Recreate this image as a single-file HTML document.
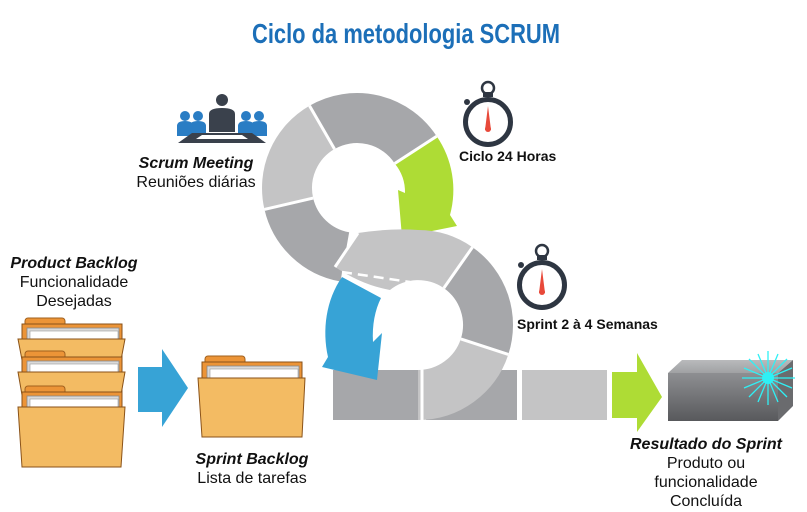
<!DOCTYPE html>
<html><head><meta charset="utf-8"><style>
html,body{margin:0;padding:0;background:#fff;}
svg{display:block;}
text{font-family:"Liberation Sans",Arial,sans-serif;fill:#111;}
.bi{font-weight:bold;font-style:italic;}
</style></head><body>
<svg width="807" height="512" viewBox="0 0 807 512" xmlns="http://www.w3.org/2000/svg">
<defs>
<linearGradient id="bf" x1="0" y1="0" x2="0" y2="1"><stop offset="0" stop-color="#8e8f92"/><stop offset="1" stop-color="#58595c"/></linearGradient>
<linearGradient id="bt" x1="0" y1="0" x2="0" y2="1"><stop offset="0" stop-color="#b9babc"/><stop offset="1" stop-color="#a0a1a3"/></linearGradient>
<g id="folder">
 <path d="M6,0 h34 a3,3 0 0 1 3,3 v5 h-40 v-5 a3,3 0 0 1 3,-3z" fill="#ec9437" stroke="#a0601e" stroke-width="1"/>
 <rect x="0" y="6" width="100" height="40" fill="#ec9437" stroke="#8a5218" stroke-width="1"/>
 <rect x="5" y="10" width="92" height="12" fill="#d9d9d9" stroke="#888" stroke-width="0.8"/>
 <rect x="8" y="13" width="88" height="10" fill="#fff" stroke="#999" stroke-width="0.6"/>
</g>
</defs>

<text x="252" y="43" textLength="308" lengthAdjust="spacingAndGlyphs" style="font-size:28px;font-weight:bold;fill:#1c6fb8;">Ciclo da metodologia SCRUM</text>

<!-- upper ring -->
<g fill="none" stroke-width="50">
 <path d="M322,127.4 A70 70 0 0 1 415.7,149.9" stroke="#a6a7aa"/>
 <path d="M288.8,203.7 A70 70 0 0 1 322,127.4" stroke="#c4c4c5"/>
 <path d="M344.8,256.9 A70 70 0 0 1 288.8,203.7" stroke="#a6a7aa"/>
</g>
<path d="M436.7,136.3 A95 95 0 0 1 450,215 L457,226 L402,237 L398,190 L405,193 A45 45 0 0 0 394.7,163.5 Z" fill="#aedc35"/>
<g stroke="#fff" stroke-width="3">
 <line x1="334.5" y1="149" x2="309.5" y2="105.7"/>
 <line x1="394.7" y1="163.5" x2="436.7" y2="136.3"/>
 <line x1="313.2" y1="198.1" x2="264.4" y2="209.4"/>
</g>

<!-- lower ring -->
<rect x="333" y="370" width="85" height="50" fill="#a6a7aa"/>
<rect x="426" y="370" width="91" height="50" fill="#a6a7aa"/>
<rect x="522" y="370" width="85" height="50" fill="#c4c4c5"/>
<g fill="none" stroke-width="50">
 <path d="M458.2,267.7 A70 70 0 0 1 484.6,346.6" stroke="#a6a7aa"/>
 <path d="M484.6,346.6 A70 70 0 0 1 418,395" stroke="#c4c4c5"/>
</g>
<!-- crossing band -->
<path d="M358,233 Q390,228 418,230 A95 95 0 0 1 472.5,247.2 L443.8,288.1 A45 45 0 0 0 390,290 Q362,285 335,267 Z" fill="#c4c4c5"/>
<g stroke="#fff" stroke-width="3">
 <line x1="443.8" y1="288.1" x2="472.5" y2="247.2"/>
 <line x1="460.8" y1="338.9" x2="508.3" y2="354.4"/>
 <line x1="358" y1="233" x2="335" y2="267"/>
 <line x1="422" y1="368" x2="422" y2="422"/>
 <line x1="519.5" y1="368" x2="519.5" y2="422"/>
</g>
<line x1="342" y1="272" x2="410" y2="282" stroke="#fff" stroke-width="2.5" stroke-dasharray="10,6"/>
<!-- blue arrow -->
<path d="M342,277 C326,300 322,330 328,357 L322,367 L377,380 L382,333 L373,342 C372,325 375,310 381,298 Z" fill="#37a3d6"/>

<!-- blue big arrow -->
<path d="M138,367 H162 V349 L188,388 L162,427 V412 H138 Z" fill="#37a3d6"/>
<!-- green big arrow -->
<path d="M612,372 H637 V353 L662,397 L637,432 V418 H612 Z" fill="#aedc35"/>

<!-- box -->
<path d="M668,373 L682,360 H793 L778,373 Z" fill="url(#bt)"/>
<path d="M778,373 L793,360 V406 L778,421 Z" fill="#6a6b6e"/>
<rect x="668" y="373" width="110" height="48" fill="url(#bf)"/>
<g stroke="#2ff0f5" stroke-width="1.3">
 <line x1="742" y1="378" x2="795" y2="378"/><line x1="768" y1="351" x2="768" y2="405"/>
 <line x1="749" y1="359" x2="787" y2="397"/><line x1="749" y1="397" x2="787" y2="359"/>
 <line x1="744" y1="368" x2="792" y2="388"/><line x1="744" y1="388" x2="792" y2="368"/>
 <line x1="758" y1="354" x2="778" y2="402"/><line x1="778" y1="354" x2="758" y2="402"/>
</g>
<circle cx="768" cy="378" r="6" fill="#2ff0f5"/>

<!-- product backlog folders -->
<g transform="translate(22,318)"><use href="#folder"/></g>
<path d="M18,339 H125 L121,360 H22 Z" fill="#f3bb63" stroke="#8a5218" stroke-width="1"/>
<g transform="translate(22,351)"><use href="#folder"/></g>
<path d="M18,372 H125 L121,395 H22 Z" fill="#f3bb63" stroke="#8a5218" stroke-width="1"/>
<g transform="translate(22,386)"><use href="#folder"/></g>
<path d="M18,407 H125 L121,467 H22 Z" fill="#f3bb63" stroke="#8a5218" stroke-width="1"/>
<!-- sprint folder -->
<g transform="translate(202,356)"><use href="#folder"/></g>
<path d="M198,378 H305 L302,437 H202 Z" fill="#f3bb63" stroke="#8a5218" stroke-width="1"/>

<!-- people icon -->
<g fill="#2a7dc4">
 <circle cx="185" cy="116" r="5"/><path d="M177,136 v-10 q0,-5 8,-5 q8,0 8,5 v10z"/>
 <circle cx="198" cy="116" r="5"/><path d="M190,136 v-10 q0,-5 8,-5 q8,0 8,5 v10z"/>
 <circle cx="246" cy="116" r="5"/><path d="M238,136 v-10 q0,-5 8,-5 q8,0 8,5 v10z"/>
 <circle cx="259" cy="116" r="5"/><path d="M251,136 v-10 q0,-5 8,-5 q8,0 8,5 v10z"/>
</g>
<g fill="#3a414c">
 <circle cx="222" cy="100" r="6"/>
 <path d="M209,132 v-18 q0,-6 13,-6 q13,0 13,6 v18z"/>
 <path d="M178,143 L192,133 H252 L266,143 Z"/>
</g>
<path d="M196,139 L202,135 H242 L248,139 Z" fill="#fff"/>

<!-- stopwatches -->
<g id="sw" transform="translate(488,122)">
 <circle cx="0" cy="-34" r="6" fill="none" stroke="#2e3642" stroke-width="2.5"/>
 <rect x="-5" y="-30" width="10" height="5" fill="#2e3642"/>
 <circle cx="-21" cy="-20" r="3" fill="#2e3642"/>
 <circle cx="0" cy="0" r="22.5" fill="#fff" stroke="#2e3642" stroke-width="5"/>
 <path d="M0,-16 L3,8 H-3 Z" fill="#e8493a"/><circle cx="0" cy="7" r="3" fill="#e8493a"/>
</g>
<use href="#sw" transform="translate(54,163)"/>

<!-- texts -->
<text x="196" y="168" text-anchor="middle" class="bi" style="font-size:16px">Scrum Meeting</text>
<text x="196" y="187" text-anchor="middle" style="font-size:16px">Reuniões diárias</text>
<text x="74" y="268" text-anchor="middle" class="bi" style="font-size:16px">Product Backlog</text>
<text x="74" y="287" text-anchor="middle" style="font-size:16px">Funcionalidade</text>
<text x="74" y="306" text-anchor="middle" style="font-size:16px">Desejadas</text>
<text x="252" y="464" text-anchor="middle" class="bi" style="font-size:16px">Sprint Backlog</text>
<text x="252" y="483" text-anchor="middle" style="font-size:16px">Lista de tarefas</text>
<text x="459" y="161" style="font-size:14px;font-weight:bold">Ciclo 24 Horas</text>
<text x="517" y="329" style="font-size:14px;font-weight:bold">Sprint 2 à 4 Semanas</text>
<text x="706" y="449" text-anchor="middle" class="bi" style="font-size:16px">Resultado do Sprint</text>
<text x="706" y="468" text-anchor="middle" style="font-size:16px">Produto ou</text>
<text x="706" y="487" text-anchor="middle" style="font-size:16px">funcionalidade</text>
<text x="706" y="506" text-anchor="middle" style="font-size:16px">Concluída</text>
</svg>
</body></html>
